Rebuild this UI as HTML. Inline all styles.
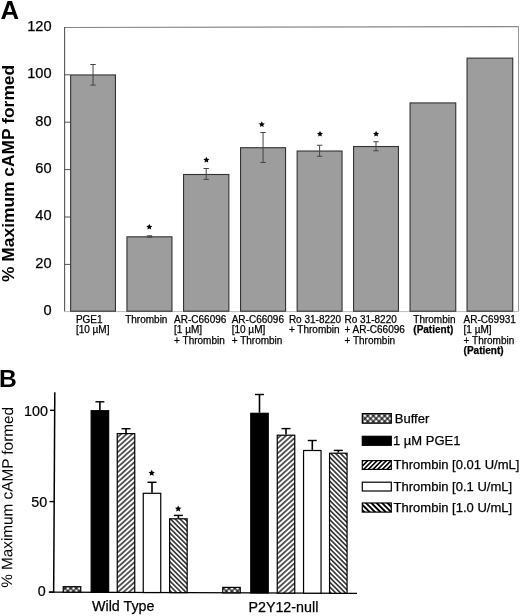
<!DOCTYPE html>
<html><head><meta charset="utf-8"><style>
html,body{margin:0;padding:0;background:#fff;}
svg{display:block;will-change:transform;}
text{font-family:"Liberation Sans", sans-serif;fill:#000;}
.h{stroke:#000;stroke-width:0.25px;}
</style></head><body>
<svg width="520" height="616" viewBox="0 0 520 616">
<defs><pattern id="hf" patternUnits="userSpaceOnUse" width="3.72" height="3.72" patternTransform="rotate(48)"><rect width="3.72" height="3.72" fill="#fff"/><line x1="1.86" y1="-1" x2="1.86" y2="4.720000000000001" stroke="#000" stroke-width="1.25"/></pattern><pattern id="hfl" patternUnits="userSpaceOnUse" width="3.3" height="3.3" patternTransform="rotate(45)"><rect width="3.3" height="3.3" fill="#fff"/><line x1="1.65" y1="-1" x2="1.65" y2="4.3" stroke="#000" stroke-width="1.6"/></pattern><pattern id="hb" patternUnits="userSpaceOnUse" width="3.4" height="3.4" patternTransform="rotate(-45)"><rect width="3.4" height="3.4" fill="#fff"/><line x1="1.7" y1="-1" x2="1.7" y2="4.4" stroke="#000" stroke-width="1.3"/></pattern><pattern id="hbl" patternUnits="userSpaceOnUse" width="3.8" height="3.8" patternTransform="rotate(-45)"><rect width="3.8" height="3.8" fill="#fff"/><line x1="1.9" y1="-1" x2="1.9" y2="4.8" stroke="#000" stroke-width="1.9"/></pattern><pattern id="hx" patternUnits="userSpaceOnUse" width="4.0" height="4.0" patternTransform="rotate(45)"><rect width="4.0" height="4.0" fill="#fff"/><line x1="2.0" y1="-1" x2="2.0" y2="5.0" stroke="#000" stroke-width="1.15"/><line x1="-1" y1="2.0" x2="5.0" y2="2.0" stroke="#000" stroke-width="1.15"/></pattern></defs>
<text transform="translate(0.55,18.85) scale(1.03,1)" font-size="25" font-weight="bold">A</text>
<text transform="translate(14.1,173.4) rotate(-90)" text-anchor="middle" font-size="17.4" font-weight="bold">% Maximum cAMP formed</text>
<text x="51.6" y="315.2" font-size="14.6" text-anchor="end" class="h">0</text>
<text x="51.6" y="267.8" font-size="14.6" text-anchor="end" class="h">20</text>
<line x1="64" y1="264.40" x2="70" y2="264.40" stroke="#555" stroke-width="1"/>
<text x="51.6" y="220.4" font-size="14.6" text-anchor="end" class="h">40</text>
<line x1="64" y1="217.00" x2="70" y2="217.00" stroke="#555" stroke-width="1"/>
<text x="51.6" y="173.0" font-size="14.6" text-anchor="end" class="h">60</text>
<line x1="64" y1="169.60" x2="70" y2="169.60" stroke="#555" stroke-width="1"/>
<text x="51.6" y="125.6" font-size="14.6" text-anchor="end" class="h">80</text>
<line x1="64" y1="122.20" x2="70" y2="122.20" stroke="#555" stroke-width="1"/>
<text x="51.6" y="78.2" font-size="14.6" text-anchor="end" class="h">100</text>
<line x1="64" y1="74.80" x2="70" y2="74.80" stroke="#555" stroke-width="1"/>
<text x="51.6" y="30.8" font-size="14.6" text-anchor="end" class="h">120</text>
<line x1="64" y1="27.5" x2="518.5" y2="26.6" stroke="#888" stroke-width="1.1"/>
<line x1="518.5" y1="26.2" x2="518.5" y2="311.5" stroke="#999" stroke-width="1"/>
<line x1="64.6" y1="27" x2="64.6" y2="312" stroke="#555" stroke-width="1.1"/>
<line x1="64" y1="311.6" x2="518.5" y2="311.6" stroke="#bbb" stroke-width="1"/>
<rect x="70.65" y="74.95" width="44.80" height="236.25" fill="#9d9d9d" stroke="#333" stroke-width="1.1"/>
<line x1="93.05" y1="64.50" x2="93.05" y2="85.10" stroke="#444" stroke-width="1"/>
<line x1="90.35" y1="64.50" x2="95.75" y2="64.50" stroke="#444" stroke-width="1"/>
<line x1="90.35" y1="85.10" x2="95.75" y2="85.10" stroke="#444" stroke-width="1"/>
<rect x="126.95" y="236.82" width="45.00" height="74.38" fill="#9d9d9d" stroke="#333" stroke-width="1.1"/>
<line x1="149.45" y1="235.80" x2="149.45" y2="237.20" stroke="#444" stroke-width="1"/>
<line x1="146.75" y1="235.80" x2="152.15" y2="235.80" stroke="#444" stroke-width="1"/>
<line x1="146.75" y1="237.20" x2="152.15" y2="237.20" stroke="#444" stroke-width="1"/>
<polygon points="149.30,223.80 150.21,225.75 152.34,226.01 150.77,227.48 151.18,229.59 149.30,228.55 147.42,229.59 147.83,227.48 146.26,226.01 148.39,225.75" fill="#000"/>
<rect x="183.55" y="174.49" width="45.30" height="136.71" fill="#9d9d9d" stroke="#333" stroke-width="1.1"/>
<line x1="206.20" y1="168.50" x2="206.20" y2="179.40" stroke="#444" stroke-width="1"/>
<line x1="203.50" y1="168.50" x2="208.90" y2="168.50" stroke="#444" stroke-width="1"/>
<line x1="203.50" y1="179.40" x2="208.90" y2="179.40" stroke="#444" stroke-width="1"/>
<polygon points="206.40,156.80 207.31,158.75 209.44,159.01 207.87,160.48 208.28,162.59 206.40,161.55 204.52,162.59 204.93,160.48 203.36,159.01 205.49,158.75" fill="#000"/>
<rect x="240.55" y="147.71" width="45.00" height="163.49" fill="#9d9d9d" stroke="#333" stroke-width="1.1"/>
<line x1="263.05" y1="132.50" x2="263.05" y2="162.50" stroke="#444" stroke-width="1"/>
<line x1="260.35" y1="132.50" x2="265.75" y2="132.50" stroke="#444" stroke-width="1"/>
<line x1="260.35" y1="162.50" x2="265.75" y2="162.50" stroke="#444" stroke-width="1"/>
<polygon points="261.80,121.30 262.71,123.25 264.84,123.51 263.27,124.98 263.68,127.09 261.80,126.05 259.92,127.09 260.33,124.98 258.76,123.51 260.89,123.25" fill="#000"/>
<rect x="297.15" y="151.03" width="44.90" height="160.17" fill="#9d9d9d" stroke="#333" stroke-width="1.1"/>
<line x1="319.60" y1="145.25" x2="319.60" y2="156.25" stroke="#444" stroke-width="1"/>
<line x1="316.90" y1="145.25" x2="322.30" y2="145.25" stroke="#444" stroke-width="1"/>
<line x1="316.90" y1="156.25" x2="322.30" y2="156.25" stroke="#444" stroke-width="1"/>
<polygon points="320.00,130.80 320.91,132.75 323.04,133.01 321.47,134.48 321.88,136.59 320.00,135.55 318.12,136.59 318.53,134.48 316.96,133.01 319.09,132.75" fill="#000"/>
<rect x="353.55" y="146.52" width="44.90" height="164.68" fill="#9d9d9d" stroke="#333" stroke-width="1.1"/>
<line x1="376.00" y1="141.75" x2="376.00" y2="150.75" stroke="#444" stroke-width="1"/>
<line x1="373.30" y1="141.75" x2="378.70" y2="141.75" stroke="#444" stroke-width="1"/>
<line x1="373.30" y1="150.75" x2="378.70" y2="150.75" stroke="#444" stroke-width="1"/>
<polygon points="376.10,130.80 377.01,132.75 379.14,133.01 377.57,134.48 377.98,136.59 376.10,135.55 374.22,136.59 374.63,134.48 373.06,133.01 375.19,132.75" fill="#000"/>
<rect x="410.05" y="102.92" width="45.70" height="208.28" fill="#9d9d9d" stroke="#333" stroke-width="1.1"/>
<rect x="467.05" y="58.12" width="45.70" height="253.08" fill="#9d9d9d" stroke="#333" stroke-width="1.1"/>
<text x="75.9" y="323.0" font-size="10" class="h">PGE1</text>
<text x="75.9" y="333.4" font-size="10" class="h">[10 µM]</text>
<text x="125.2" y="323.0" font-size="10" class="h">Thrombin</text>
<text x="174.1" y="323.0" font-size="10" class="h">AR-C66096</text>
<text x="174.1" y="333.4" font-size="10" class="h">[1 µM]</text>
<text x="174.1" y="343.7" font-size="10" class="h">+ Thrombin</text>
<text x="231.7" y="323.0" font-size="10" class="h">AR-C66096</text>
<text x="231.7" y="333.4" font-size="10" class="h">[10 µM]</text>
<text x="231.7" y="343.7" font-size="10" class="h">+ Thrombin</text>
<text x="288.9" y="323.0" font-size="10" class="h">Ro 31-8220</text>
<text x="288.9" y="333.4" font-size="10" class="h">+ Thrombin</text>
<text x="344.5" y="323.0" font-size="10" class="h">Ro 31-8220</text>
<text x="344.5" y="333.4" font-size="10" class="h">+ AR-C66096</text>
<text x="344.5" y="343.7" font-size="10" class="h">+ Thrombin</text>
<text x="413.3" y="323.0" font-size="10" class="h">Thrombin</text>
<text x="413.3" y="333.4" font-size="10" class="h"><tspan font-weight='bold'>(Patient)</tspan></text>
<text x="463.6" y="323.0" font-size="10" class="h">AR-C69931</text>
<text x="463.6" y="333.4" font-size="10" class="h">[1 µM]</text>
<text x="463.6" y="343.7" font-size="10" class="h">+ Thrombin</text>
<text x="463.6" y="354.1" font-size="10" class="h"><tspan font-weight='bold'>(Patient)</tspan></text>
<text x="-0.9" y="387.3" font-size="24.6" font-weight="bold">B</text>
<text transform="translate(12.55,497.4) rotate(-89.7)" text-anchor="middle" font-size="15.3">% Maximum cAMP formed</text>
<text transform="translate(45.8,595.9) scale(0.93,1)" font-size="15.4" text-anchor="end" class="h">0</text>
<line x1="49.00" y1="592.10" x2="53.66" y2="592.10" stroke="#000" stroke-width="1.4"/>
<text transform="translate(47.1,506.6) scale(0.93,1)" font-size="15.4" text-anchor="end" class="h">50</text>
<line x1="49.52" y1="501.60" x2="54.18" y2="501.60" stroke="#000" stroke-width="1.4"/>
<text transform="translate(47.9,415.8) scale(0.93,1)" font-size="15.4" text-anchor="end" class="h">100</text>
<line x1="50.04" y1="410.30" x2="54.70" y2="410.30" stroke="#000" stroke-width="1.4"/>
<line x1="54.80" y1="392.2" x2="53.66" y2="592.8" stroke="#000" stroke-width="1.5"/>
<line x1="48.8" y1="592.09" x2="357" y2="593.39" stroke="#000" stroke-width="1.3"/>
<rect x="63.25" y="586.70" width="17.50" height="5.49" fill="url(#hx)" stroke="#000" stroke-width="1.2"/>
<rect x="91.15" y="410.70" width="17.50" height="181.61" fill="#000" stroke="#000" stroke-width="1.2"/>
<line x1="99.90" y1="401.80" x2="99.90" y2="410.10" stroke="#000" stroke-width="1.6"/>
<line x1="95.40" y1="401.80" x2="104.40" y2="401.80" stroke="#000" stroke-width="1.4"/>
<rect x="117.25" y="433.60" width="17.50" height="158.82" fill="url(#hf)" stroke="#000" stroke-width="1.2"/>
<line x1="126.00" y1="428.70" x2="126.00" y2="433.00" stroke="#000" stroke-width="1.6"/>
<line x1="121.50" y1="428.70" x2="130.50" y2="428.70" stroke="#000" stroke-width="1.4"/>
<rect x="143.25" y="493.30" width="17.50" height="99.23" fill="#fff" stroke="#000" stroke-width="1.2"/>
<line x1="152.00" y1="482.30" x2="152.00" y2="492.70" stroke="#000" stroke-width="1.6"/>
<line x1="147.50" y1="482.30" x2="156.50" y2="482.30" stroke="#000" stroke-width="1.4"/>
<rect x="169.65" y="518.80" width="17.50" height="73.84" fill="url(#hb)" stroke="#000" stroke-width="1.2"/>
<line x1="178.40" y1="515.40" x2="178.40" y2="518.20" stroke="#000" stroke-width="1.6"/>
<line x1="173.90" y1="515.40" x2="182.90" y2="515.40" stroke="#000" stroke-width="1.4"/>
<rect x="222.75" y="587.40" width="17.50" height="5.46" fill="url(#hx)" stroke="#000" stroke-width="1.2"/>
<rect x="250.75" y="413.30" width="17.50" height="179.68" fill="#000" stroke="#000" stroke-width="1.2"/>
<line x1="259.50" y1="394.50" x2="259.50" y2="412.70" stroke="#000" stroke-width="1.6"/>
<line x1="255.00" y1="394.50" x2="264.00" y2="394.50" stroke="#000" stroke-width="1.4"/>
<rect x="277.25" y="435.20" width="17.50" height="157.89" fill="url(#hf)" stroke="#000" stroke-width="1.2"/>
<line x1="286.00" y1="428.60" x2="286.00" y2="434.60" stroke="#000" stroke-width="1.6"/>
<line x1="281.50" y1="428.60" x2="290.50" y2="428.60" stroke="#000" stroke-width="1.4"/>
<rect x="303.55" y="450.50" width="17.50" height="142.70" fill="#fff" stroke="#000" stroke-width="1.2"/>
<line x1="312.30" y1="440.50" x2="312.30" y2="449.90" stroke="#000" stroke-width="1.6"/>
<line x1="307.80" y1="440.50" x2="316.80" y2="440.50" stroke="#000" stroke-width="1.4"/>
<rect x="329.55" y="453.20" width="17.50" height="140.11" fill="url(#hb)" stroke="#000" stroke-width="1.2"/>
<line x1="338.30" y1="450.40" x2="338.30" y2="452.60" stroke="#000" stroke-width="1.6"/>
<line x1="333.80" y1="450.40" x2="342.80" y2="450.40" stroke="#000" stroke-width="1.4"/>
<polygon points="151.70,469.65 152.67,471.67 154.89,471.96 153.27,473.51 153.67,475.71 151.70,474.65 149.73,475.71 150.13,473.51 148.51,471.96 150.73,471.67" fill="#000"/>
<polygon points="178.20,505.45 179.17,507.47 181.39,507.76 179.77,509.31 180.17,511.51 178.20,510.45 176.23,511.51 176.63,509.31 175.01,507.76 177.23,507.47" fill="#000"/>
<text x="92.0" y="611.4" font-size="14.3" class="h">Wild Type</text>
<text x="248.4" y="611.5" font-size="14.3" class="h">P2Y12-null</text>
<rect x="362.30" y="413.60" width="29" height="9.60" fill="url(#hx)" stroke="#000" stroke-width="1.2"/>
<text x="394.8" y="423.10" font-size="13" class="h">Buffer</text>
<rect x="362.30" y="436.30" width="29" height="9.00" fill="#000" stroke="#000" stroke-width="1.2"/>
<text x="393.0" y="445.20" font-size="13" class="h">1 µM PGE1</text>
<rect x="362.30" y="460.60" width="29" height="8.80" fill="url(#hfl)" stroke="#000" stroke-width="1.2"/>
<text x="393.6" y="469.30" font-size="13" class="h">Thrombin [0.01 U/mL]</text>
<rect x="362.30" y="482.20" width="29" height="8.80" fill="#fff" stroke="#000" stroke-width="1.2"/>
<text x="393.6" y="490.90" font-size="13" class="h">Thrombin [0.1 U/mL]</text>
<rect x="362.30" y="503.00" width="29" height="9.10" fill="url(#hbl)" stroke="#000" stroke-width="1.2"/>
<text x="393.6" y="512.00" font-size="13" class="h">Thrombin [1.0 U/mL]</text>
</svg>
</body></html>
